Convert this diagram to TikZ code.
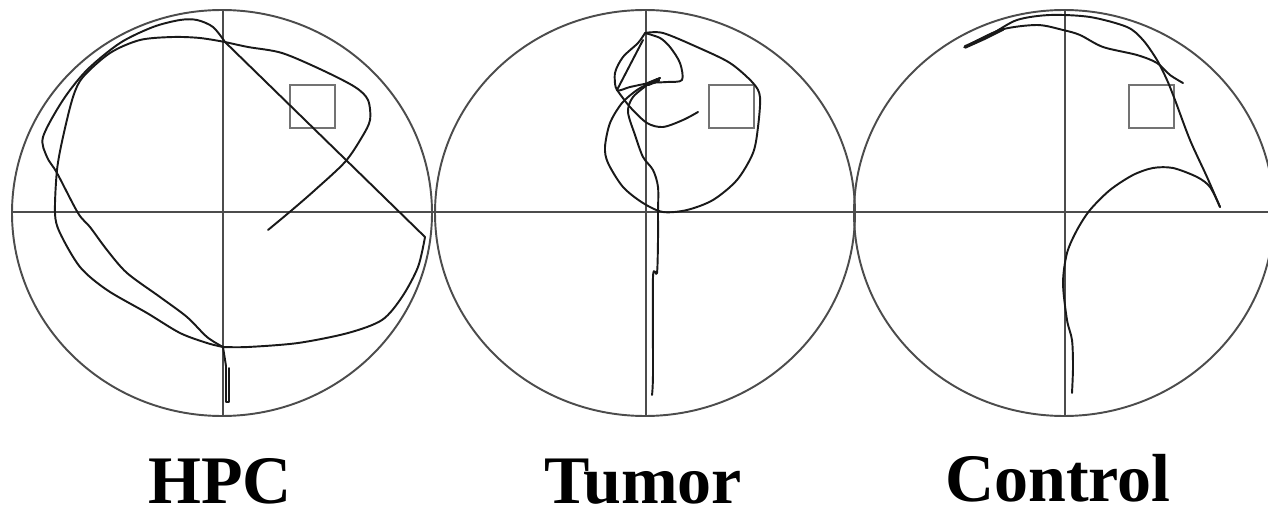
\documentclass[tikz,border=0pt]{standalone}
\usepackage{fontspec}
\setmainfont{Liberation Serif}
\usetikzlibrary{positioning}

\begin{document}
\begin{tikzpicture}[x=0.02cm,y=-0.02cm,
  arena/.style={black!70,line width=1.1pt},
  track/.style={black!90,line width=1.1pt,line join=round,line cap=round},
  goal/.style={black!55,line width=0.9pt},
  lbl/.style={font=\bfseries\fontsize{38.7}{40}\selectfont,anchor=base,inner sep=0pt}]
  \useasboundingbox (0,0) rectangle (1268,517);
  % pools with quadrant lines and target square
  \foreach \cx/\sx in {222/290,645/709,1064/1129} {
    \draw[arena] (\cx,213) ellipse (210 and 203);
    \draw[arena] (\cx+1,10) -- (\cx+1,416);
    \draw[goal] (\sx,85) rectangle +(45,43);
  }
  \draw[arena] (12,212) -- (1268,212);

  % HPC swim path
  \draw[track] (223,347) -- (226,366) -- (226,402) -- (229,402) -- (229,368);
  \draw[track] plot[smooth,tension=0.5] coordinates {(223,347) (207,337) (187,317) (160,297) (127,273) (107,250) (90,227) (78,213) (57,173) (47,157) (43,137) (63,100) (87,70) (120,43) (153,27) (180,20) (197,20) (213,27) (225,42)};
  \draw[track] (225,42) -- (425,237);
  \draw[track] plot[smooth,tension=0.5] coordinates {(425,237) (418,267) (402,297) (382,320) (348,333) (298,343) (248,347) (223,347)};
  \draw[track] plot[smooth,tension=0.5] coordinates {(223,347) (207,343) (180,333) (147,313) (107,290) (80,267) (60,233) (55,213) (57,170) (63,137) (73,97) (83,77) (110,53) (140,40) (173,37) (200,38) (225,42)};
  \draw[track] plot[smooth,tension=0.5] coordinates {(225,42) (248,47) (282,53) (322,70) (355,87) (368,100) (370,120) (362,137) (345,162) (315,190) (292,210) (268,230)};

  % Tumor swim path
  \draw[track] plot[smooth,tension=0.5] coordinates {(652,395) (653,373) (653,277) (657,273) (658,240) (658,213) (658,187) (653,170) (643,157) (635,135) (628,112) (633,97) (650,83) (660,78)};
  \draw[track] plot[smooth,tension=0.5] coordinates {(660,78) (650,83) (637,90) (622,103) (610,123) (605,147) (608,163) (623,187) (643,203) (663,212) (687,210) (713,200) (737,180) (753,153) (758,127) (760,97) (753,83) (730,63) (697,47) (663,33) (645,33)};
  \draw[track] plot[smooth,tension=0.5] coordinates {(645,33) (660,38) (670,47) (680,63) (682,80) (667,82) (650,83) (630,87) (617,90) (615,73) (623,57) (638,43) (645,33)};
  \draw[track] (617,90) -- (630,65) -- (643,40);
  \draw[track] plot[smooth,tension=0.5] coordinates {(617,90) (630,107) (647,123) (663,127) (683,120) (698,112)};
  \draw[track,line width=2.4pt] (648,84) -- (658,80);

  % Control swim path
  \draw[track,line width=2pt] (965,47) -- (985,38) -- (1003,29);
  \draw[track] plot[smooth,tension=0.5] coordinates {(965,47) (990,35) (1017,20) (1050,15) (1090,17) (1127,27) (1143,40) (1157,60) (1167,80) (1175,100) (1190,140) (1207,177) (1220,207)};
  \draw[track] plot[smooth,tension=0.5] coordinates {(965,47) (1000,30) (1037,25) (1063,30) (1080,35) (1103,47) (1137,55) (1157,63) (1170,75) (1183,83)};
  \draw[track] plot[smooth,tension=0.5] coordinates {(1220,207) (1210,187) (1197,177) (1173,168) (1153,168) (1133,175) (1110,190) (1090,210) (1077,230) (1067,253) (1063,283) (1067,320) (1072,340) (1073,367) (1072,393)};

  % group labels
  \node[lbl] (hpc) at (220,503) {HPC};
  \node[lbl] (tumor) at (643,503) {Tumor};
  \node[lbl] (control) at (1058,501) {Control};
\end{tikzpicture}
\end{document}
